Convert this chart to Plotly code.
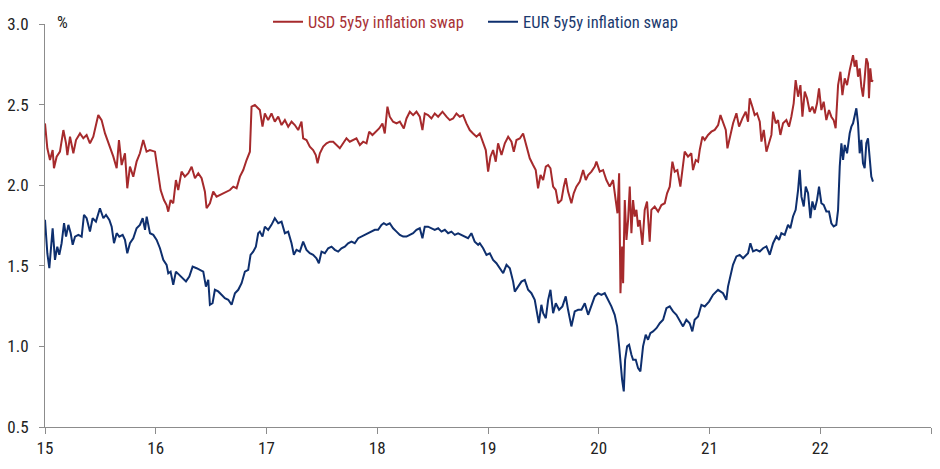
import plotly.graph_objects as go

# Decimal years (15 = 2015)
usd_x = [15.000, 15.021, 15.045, 15.069, 15.081, 15.105, 15.135, 15.166, 15.190, 15.202,
         15.226, 15.256, 15.280, 15.316, 15.346, 15.376, 15.406, 15.436, 15.481, 15.511,
         15.542, 15.587, 15.617, 15.647, 15.668, 15.692, 15.722, 15.743, 15.767, 15.797,
         15.827, 15.857, 15.887, 15.917, 15.947, 15.993, 16.023, 16.044, 16.074, 16.098,
         16.113, 16.134, 16.158, 16.182, 16.203, 16.233, 16.263, 16.294, 16.324, 16.354,
         16.384, 16.414, 16.444, 16.459, 16.489, 16.519, 16.549, 16.579, 16.624, 16.670,
         16.700, 16.730, 16.760, 16.790, 16.820, 16.850, 16.865, 16.895,
         16.940, 16.964, 16.985, 17.015, 17.045, 17.075, 17.106, 17.136, 17.166, 17.196,
         17.226, 17.256, 17.286, 17.316, 17.331, 17.361, 17.391, 17.421, 17.445, 17.461,
         17.482, 17.512, 17.542, 17.572, 17.602, 17.632, 17.662, 17.692, 17.722, 17.752,
         17.782, 17.812, 17.843, 17.873, 17.903, 17.927, 17.957, 17.987, 18.017, 18.047,
         18.068, 18.092, 18.113, 18.143, 18.174, 18.204, 18.240, 18.264, 18.294, 18.324,
         18.354, 18.384, 18.408, 18.429, 18.459, 18.489, 18.519, 18.550, 18.589, 18.625,
         18.655, 18.685, 18.715, 18.745, 18.775, 18.805, 18.835, 18.865, 18.896,
         18.926, 18.956, 18.980, 19.001, 19.022, 19.046, 19.070, 19.091, 19.122, 19.152,
         19.182, 19.212, 19.233, 19.257, 19.287, 19.317, 19.347, 19.377, 19.407, 19.431,
         19.452, 19.474, 19.498, 19.522, 19.543, 19.564, 19.588, 19.612, 19.633, 19.663,
         19.684, 19.702, 19.723, 19.753, 19.774, 19.798, 19.829, 19.859, 19.883, 19.904,
         19.934, 19.964, 19.979, 20.009, 20.039, 20.069, 20.099, 20.129, 20.153, 20.169,
         20.184, 20.196, 20.211, 20.220, 20.235, 20.250, 20.265, 20.280, 20.295, 20.310,
         20.325, 20.340, 20.355, 20.370, 20.394, 20.415, 20.436, 20.460, 20.475, 20.505,
         20.536, 20.566, 20.596, 20.617, 20.641, 20.665, 20.686, 20.710, 20.737, 20.761,
         20.776, 20.806, 20.836, 20.851, 20.876, 20.897,
         20.912, 20.936, 20.957, 20.987, 21.017, 21.047, 21.078, 21.099, 21.123, 21.147,
         21.162, 21.183, 21.213, 21.243, 21.267, 21.297, 21.327, 21.348, 21.363, 21.387,
         21.408, 21.429, 21.454, 21.469, 21.490, 21.514, 21.538, 21.559, 21.574, 21.598,
         21.619, 21.640, 21.664, 21.694, 21.718, 21.739, 21.760, 21.778, 21.800, 21.821,
         21.839, 21.860, 21.881, 21.905, 21.929, 21.950, 21.971, 21.989, 22.010, 22.031,
         22.055, 22.079, 22.100, 22.121, 22.139, 22.161, 22.182, 22.200, 22.221, 22.242,
         22.266, 22.281, 22.296, 22.311, 22.326, 22.341, 22.356, 22.371, 22.386, 22.401,
         22.416, 22.431, 22.440, 22.452, 22.464, 22.476]
usd_y = [2.383, 2.229, 2.156, 2.218, 2.105, 2.177, 2.208, 2.342, 2.260, 2.187,
         2.301, 2.198, 2.280, 2.321, 2.291, 2.311, 2.260, 2.301, 2.435, 2.404,
         2.321, 2.239, 2.177, 2.105, 2.280, 2.125, 2.198, 1.981, 2.115, 2.053,
         2.146, 2.198, 2.280, 2.208, 2.218, 2.208, 2.084, 1.970, 1.908, 1.877,
         1.836, 1.908, 1.888, 2.032, 1.970, 2.084, 2.053, 2.074, 2.115, 2.043,
         2.074, 2.043, 1.960, 1.857, 1.888, 1.960, 1.929, 1.939, 1.950, 1.970,
         1.991, 1.981, 2.053, 2.094, 2.156, 2.208, 2.487, 2.497,
         2.466, 2.363, 2.445, 2.404, 2.445, 2.394, 2.425, 2.373, 2.404, 2.363,
         2.394, 2.373, 2.342, 2.394, 2.291, 2.280, 2.239, 2.218, 2.187, 2.136,
         2.198, 2.239, 2.260, 2.270, 2.270, 2.249, 2.229, 2.260, 2.291, 2.270,
         2.280, 2.291, 2.249, 2.270, 2.260, 2.332, 2.311, 2.332, 2.352, 2.383,
         2.321, 2.487, 2.425, 2.394, 2.383, 2.394, 2.352, 2.414, 2.456, 2.435,
         2.456, 2.425, 2.342, 2.445, 2.435, 2.414, 2.445, 2.425, 2.456, 2.425,
         2.404, 2.414, 2.445, 2.425, 2.435, 2.383, 2.342, 2.321, 2.301,
         2.321, 2.260, 2.218, 2.084, 2.177, 2.218, 2.146, 2.260, 2.187, 2.260,
         2.301, 2.270, 2.208, 2.280, 2.290, 2.321, 2.249, 2.167, 2.125, 2.094,
         1.981, 2.063, 2.032, 2.115, 2.125, 2.105, 1.991, 1.970, 1.888, 1.908,
         1.991, 2.043, 1.960, 1.888, 1.950, 1.991, 2.022, 2.094, 2.032, 2.063,
         2.084, 2.115, 2.146, 2.084, 2.094, 2.032, 1.991, 2.032, 1.908, 1.826,
         2.074, 1.330, 1.619, 1.392, 1.908, 1.661, 1.784, 1.991, 1.702, 1.908,
         1.805, 1.847, 1.743, 1.784, 1.630, 1.847, 1.898, 1.650, 1.847, 1.867,
         1.836, 1.877, 1.888, 1.950, 1.991, 2.146, 2.084, 2.094, 1.991, 2.115,
         2.208, 2.177, 2.198, 2.094, 2.156, 2.146,
         2.219, 2.301, 2.281, 2.312, 2.332, 2.343, 2.373, 2.435, 2.394, 2.343,
         2.229, 2.301, 2.384, 2.446, 2.363, 2.415, 2.456, 2.394, 2.539, 2.487,
         2.435, 2.446, 2.394, 2.270, 2.343, 2.208, 2.270, 2.312, 2.456, 2.384,
         2.404, 2.312, 2.384, 2.404, 2.363, 2.425, 2.508, 2.652, 2.549, 2.621,
         2.425, 2.580, 2.539, 2.456, 2.487, 2.446, 2.508, 2.601, 2.466, 2.518,
         2.404, 2.466, 2.425, 2.404, 2.353, 2.621, 2.704, 2.559, 2.663, 2.621,
         2.714, 2.766, 2.807, 2.735, 2.776, 2.673, 2.725, 2.611, 2.549, 2.663,
         2.787, 2.756, 2.539, 2.725, 2.642, 2.652]

eur_x = [15.000, 15.021, 15.039, 15.054, 15.069, 15.090, 15.111, 15.129, 15.150, 15.172,
         15.190, 15.211, 15.232, 15.250, 15.271, 15.301, 15.331, 15.352, 15.376, 15.406,
         15.430, 15.460, 15.496, 15.527, 15.551, 15.581, 15.602, 15.623, 15.647, 15.671,
         15.701, 15.722, 15.743, 15.767, 15.797, 15.827, 15.857, 15.882, 15.903, 15.918,
         15.948, 15.978, 16.008, 16.038, 16.068, 16.098, 16.113, 16.134, 16.158, 16.182,
         16.212, 16.243, 16.273, 16.303, 16.333, 16.369, 16.399, 16.429, 16.453, 16.474,
         16.489, 16.513, 16.534, 16.564, 16.594, 16.624, 16.655, 16.685, 16.715, 16.745,
         16.775, 16.805, 16.835, 16.856, 16.880, 16.904, 16.925,
         16.940, 16.964, 16.985, 17.015, 17.045, 17.075, 17.106, 17.136, 17.166, 17.196,
         17.226, 17.247, 17.271, 17.301, 17.331, 17.361, 17.391, 17.421, 17.451, 17.473,
         17.497, 17.527, 17.557, 17.587, 17.617, 17.647, 17.677, 17.707, 17.737, 17.767,
         17.797, 17.828, 17.858, 17.888, 17.918, 17.948, 17.978, 18.008, 18.038, 18.059,
         18.083, 18.113, 18.143, 18.174, 18.204, 18.234, 18.264, 18.294, 18.324, 18.354,
         18.384, 18.408, 18.429, 18.459, 18.489, 18.519, 18.550, 18.580, 18.610, 18.640,
         18.670, 18.700, 18.730, 18.760, 18.790, 18.820, 18.850, 18.880, 18.911,
         18.926, 18.956, 18.986, 19.016, 19.046, 19.076, 19.107, 19.137, 19.167, 19.197,
         19.227, 19.242, 19.272, 19.302, 19.332, 19.362, 19.392, 19.422, 19.443, 19.459,
         19.482, 19.498, 19.522, 19.543, 19.564, 19.588, 19.612, 19.642, 19.672, 19.702,
         19.723, 19.753, 19.783, 19.814, 19.844, 19.874, 19.904, 19.934, 19.964, 19.994,
         20.024, 20.054, 20.084, 20.114, 20.144, 20.166, 20.184, 20.196, 20.211, 20.226,
         20.238, 20.256, 20.274, 20.295, 20.310, 20.334, 20.355, 20.376, 20.400, 20.424,
         20.445, 20.466, 20.490, 20.521, 20.551, 20.581, 20.611, 20.641, 20.671, 20.701,
         20.731, 20.761, 20.791, 20.821, 20.845, 20.866, 20.897, 20.927, 20.957, 20.996,
         21.032, 21.077, 21.122, 21.152, 21.167, 21.197, 21.212,
         21.243, 21.273, 21.303, 21.348, 21.369, 21.393, 21.423, 21.454, 21.484, 21.514,
         21.544, 21.574, 21.604, 21.628, 21.649, 21.679, 21.709, 21.730, 21.754, 21.778,
         21.800, 21.815, 21.830, 21.851, 21.869, 21.890, 21.911, 21.929, 21.950, 21.971,
         21.989, 22.010, 22.031, 22.055, 22.079, 22.100, 22.121, 22.145, 22.161, 22.176,
         22.191, 22.206, 22.221, 22.242, 22.266, 22.281, 22.296, 22.311, 22.326, 22.341,
         22.356, 22.371, 22.386, 22.401, 22.416, 22.431, 22.446, 22.461, 22.476]
eur_y = [1.785, 1.578, 1.485, 1.640, 1.733, 1.537, 1.619, 1.568, 1.640, 1.764,
         1.681, 1.754, 1.702, 1.630, 1.681, 1.692, 1.681, 1.816, 1.795, 1.712,
         1.795, 1.774, 1.857, 1.795, 1.816, 1.785, 1.743, 1.640, 1.702, 1.681,
         1.692, 1.661, 1.578, 1.640, 1.671, 1.733, 1.754, 1.795, 1.723, 1.805,
         1.702, 1.692, 1.661, 1.609, 1.537, 1.506, 1.454, 1.464, 1.382, 1.464,
         1.444, 1.423, 1.403, 1.433, 1.495, 1.485, 1.475, 1.464, 1.371, 1.413,
         1.258, 1.268, 1.351, 1.341, 1.320, 1.299, 1.289, 1.258, 1.330, 1.351,
         1.392, 1.464, 1.475, 1.568, 1.588, 1.619, 1.702,
         1.712, 1.681, 1.743, 1.723, 1.754, 1.795, 1.764, 1.774, 1.702, 1.712,
         1.640, 1.568, 1.599, 1.588, 1.650, 1.599, 1.578, 1.568, 1.547, 1.516,
         1.588, 1.578, 1.609, 1.619, 1.599, 1.588, 1.609, 1.619, 1.640, 1.650,
         1.640, 1.671, 1.681, 1.692, 1.702, 1.712, 1.723, 1.723, 1.754, 1.764,
         1.754, 1.764, 1.733, 1.712, 1.692, 1.681, 1.681, 1.692, 1.702, 1.723,
         1.733, 1.671, 1.743, 1.743, 1.733, 1.723, 1.733, 1.712, 1.723, 1.702,
         1.712, 1.692, 1.702, 1.692, 1.681, 1.671, 1.702, 1.650, 1.630,
         1.640, 1.609, 1.568, 1.578, 1.537, 1.516, 1.485, 1.454, 1.506, 1.485,
         1.402, 1.340, 1.371, 1.402, 1.413, 1.351, 1.330, 1.289, 1.206, 1.144,
         1.258, 1.206, 1.175, 1.289, 1.351, 1.206, 1.268, 1.227, 1.248, 1.310,
         1.227, 1.124, 1.217, 1.227, 1.227, 1.268, 1.196, 1.258, 1.310, 1.330,
         1.320, 1.330, 1.289, 1.248, 1.196, 1.124, 1.000, 0.897, 0.793, 0.721,
         0.917, 1.000, 1.010, 0.948, 0.917, 0.917, 0.865, 0.845, 1.000, 1.072,
         1.041, 1.082, 1.093, 1.113, 1.144, 1.165, 1.237, 1.248, 1.217, 1.196,
         1.155, 1.124, 1.165, 1.144, 1.093, 1.165, 1.186, 1.258, 1.248, 1.278,
         1.320, 1.351, 1.330, 1.289, 1.371, 1.464, 1.506,
         1.558, 1.568, 1.547, 1.578, 1.640, 1.589, 1.599, 1.589, 1.609, 1.620,
         1.568, 1.640, 1.682, 1.661, 1.702, 1.692, 1.754, 1.733, 1.806, 1.847,
         1.971, 2.095, 1.929, 1.868, 1.991, 1.950, 1.795, 1.899, 1.847, 1.909,
         1.991, 1.888, 1.878, 1.837, 1.837, 1.764, 1.744, 1.754, 1.847, 2.115,
         2.260, 2.157, 2.250, 2.198, 2.322, 2.363, 2.384, 2.425, 2.477, 2.384,
         2.198, 2.281, 2.136, 2.105, 2.260, 2.291, 2.177, 2.053, 2.022]

x_tickvals = [15, 16, 17, 18, 19, 20, 21, 22, 23]
x_ticktext = ["15", "16", "17", "18", "19", "20", "21", "22", ""]
y_tickvals = [0.5, 1.0, 1.5, 2.0, 2.5, 3.0]

RED = "#A62A2C"
BLUE = "#0E2F6E"
AXIS = "#8C8C8C"
TXT = "#222222"
FONT = "Roboto Condensed, Roboto, sans-serif"

fig = go.Figure()
fig.add_trace(go.Scatter(x=usd_x, y=usd_y, mode="lines",
                         name="<span style='color:#A83236'>USD 5y5y inflation swap</span>",
                         line=dict(color=RED, width=2)))
fig.add_trace(go.Scatter(x=eur_x, y=eur_y, mode="lines",
                         name="<span style='color:#1B3A6E'>EUR 5y5y inflation swap</span>",
                         line=dict(color=BLUE, width=2)))

fig.update_layout(
    width=940, height=469,
    margin=dict(l=45, r=9, t=24, b=42, autoexpand=False),
    paper_bgcolor="white", plot_bgcolor="white",
    font=dict(family=FONT, size=17, color=TXT),
    showlegend=True,
    legend=dict(orientation="h", x=0.2517, y=1.005, xanchor="left", yanchor="middle",
                font=dict(size=16.5), bgcolor="rgba(0,0,0,0)", itemwidth=30,
                entrywidth=170, tracegroupgap=0),
    xaxis=dict(range=[15, 23], tickvals=x_tickvals, ticktext=x_ticktext,
               showgrid=False, zeroline=False, showline=True, linecolor=AXIS, linewidth=1,
               ticks="outside", ticklen=6, tickcolor=AXIS, tickwidth=1,
               ticklabelstandoff=0,
               tickfont=dict(size=17, color=TXT)),
    xaxis2=dict(range=[15, 23], tickvals=x_tickvals, overlaying="x", anchor="y",
                side="bottom", showgrid=False, zeroline=False, showline=False,
                ticks="inside", ticklen=6, tickcolor=AXIS, tickwidth=1,
                showticklabels=False),
    yaxis=dict(range=[0.5, 3.0], tickvals=y_tickvals, tickformat=".1f",
               showgrid=False, zeroline=False, showline=True, linecolor=AXIS, linewidth=1,
               ticks="outside", ticklen=5, tickcolor=AXIS, tickwidth=1,
               ticklabelstandoff=7,
               tickfont=dict(size=17, color=TXT)),
    annotations=[dict(text="%", xref="paper", yref="paper", x=0.0113, y=1.005,
                      xanchor="left", yanchor="middle", showarrow=False,
                      font=dict(size=17, color=TXT))],
)

fig.write_html("out.html", config={"displayModeBar": False},
               post_script="document.body.style.margin='0px';document.body.style.overflow='hidden';")
